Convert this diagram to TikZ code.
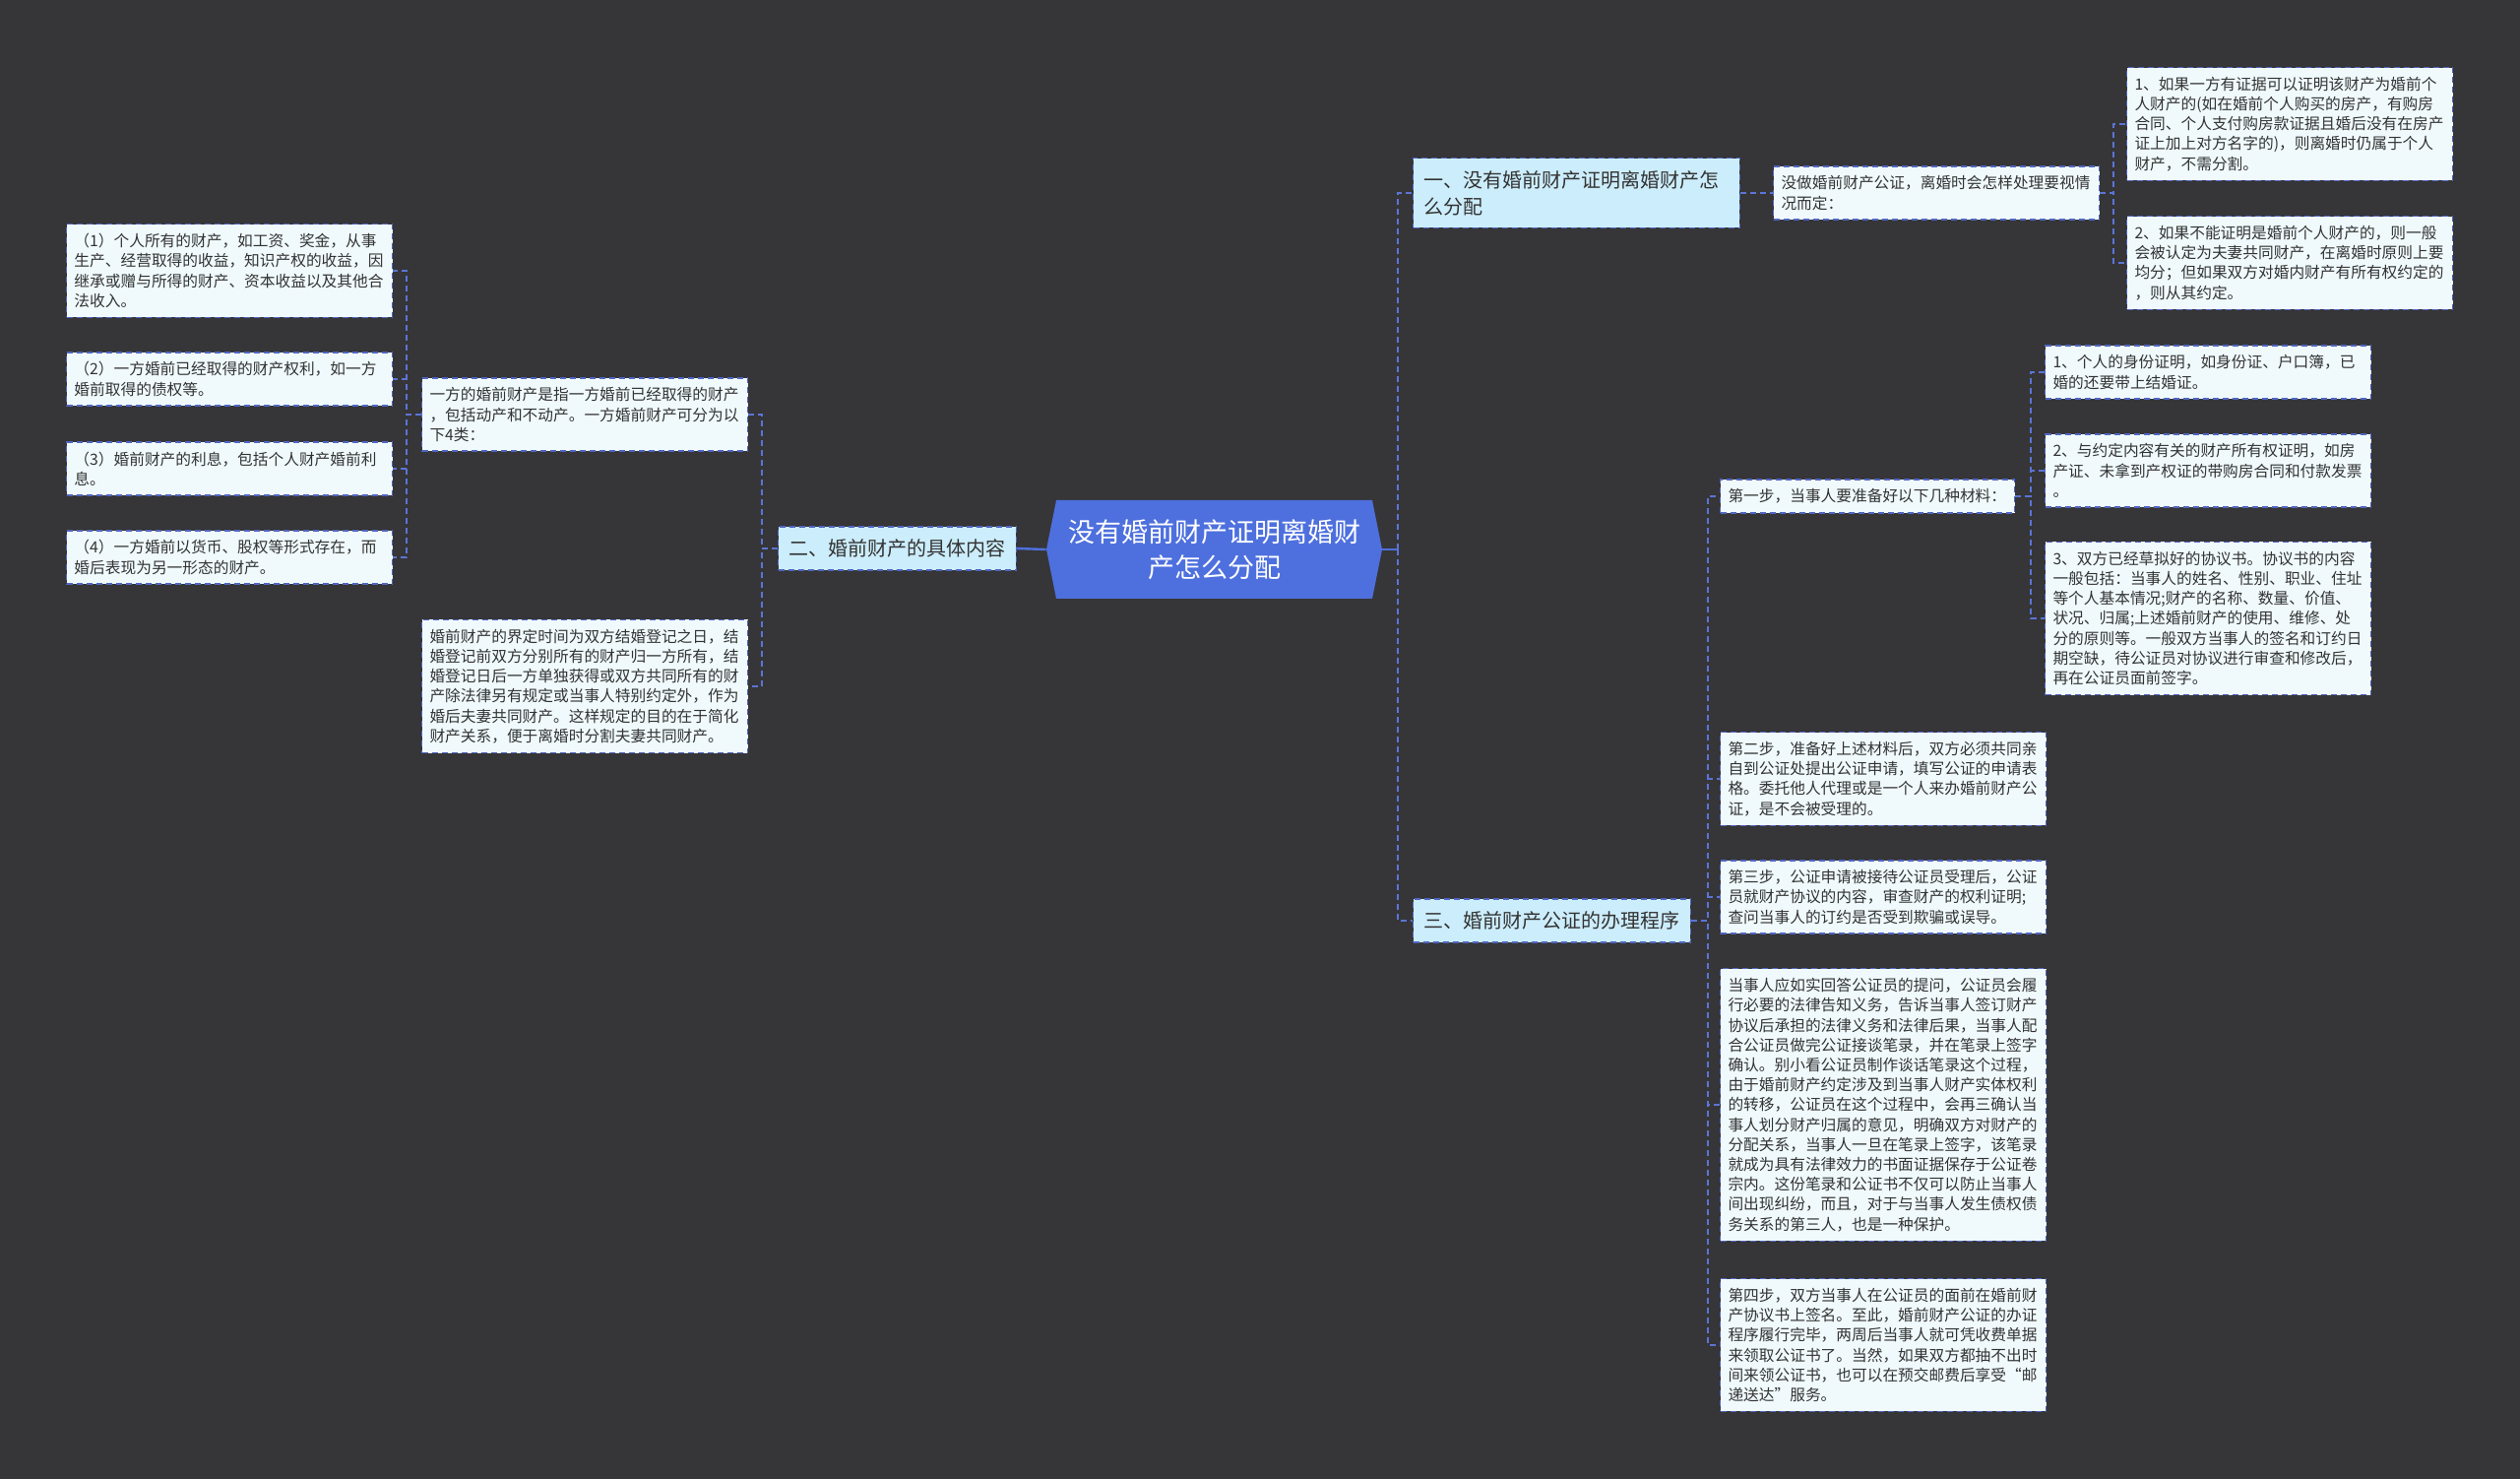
\documentclass[tikz,border=0pt]{standalone}
\usepackage{fontspec}
\setmainfont{Noto Sans CJK SC}
\usetikzlibrary{calc}
\definecolor{mmback}{HTML}{363538}
\definecolor{mmroot}{HTML}{4E70DE}
\definecolor{mmtopic}{HTML}{CCEDFB}
\definecolor{mmleaf}{HTML}{F0FAFD}
\definecolor{mmedge}{HTML}{4F66C0}
\definecolor{mmline}{HTML}{5B74D6}
\definecolor{mmtext}{HTML}{333333}
\tikzset{
 mm root/.style={text=white,font=\fontsize{13.5}{18}\selectfont,align=center,
                 minimum width=170.5pt,minimum height=50pt,inner sep=0pt},
 mm topic/.style={anchor=west,fill=mmtopic,draw=mmedge,line width=.7pt,
                  dash pattern=on 3pt off 2pt,text=mmtext,align=left,
                  font=\fontsize{10}{13.5}\selectfont,inner xsep=5.4pt,inner ysep=6.3pt},
 mm leaf/.style={anchor=west,fill=mmleaf,draw=mmedge,line width=.7pt,
                 dash pattern=on 3pt off 2pt,text=mmtext,align=left,text width=157.7pt,
                 font=\fontsize{7.85}{10.1}\selectfont,inner xsep=3.9pt,inner ysep=4.8pt},
 mm link/.style={mmline,line width=1pt,dash pattern=on 3pt off 2pt},
 mm stem/.style={mmroot,line width=1.2pt}
}
\begin{document}
\begin{tikzpicture}[x=.5pt,y=-.5pt]
 \fill[mmback] (0,0) rectangle (2560,1502);
 \useasboundingbox (0,0) rectangle (2560,1502);

 % centre
 \coordinate (rc) at (1233.5,558);
 \fill[mmroot] ($(rc)+(-170.5,0)$) -- ($(rc)+(-160.5,-50)$) -- ($(rc)+(160.5,-50)$)
   -- ($(rc)+(170.5,0)$) -- ($(rc)+(160.5,50)$) -- ($(rc)+(-160.5,50)$) -- cycle;
 \node[mm root] (root) at (rc) {没有婚前财产证明离婚财\\产怎么分配};

 % left branch
 \node[mm topic,text width=110pt] (two) at (790,557) {二、婚前财产的具体内容};
 \node[mm leaf] (defn) at (428,421) {一方的婚前财产是指一方婚前已经取得的财产\\，包括动产和不动产。一方婚前财产可分为以\\下4类：};
 \node[mm leaf] (date) at (428,697) {婚前财产的界定时间为双方结婚登记之日，结\\婚登记前双方分别所有的财产归一方所有，结\\婚登记日后一方单独获得或双方共同所有的财\\产除法律另有规定或当事人特别约定外，作为\\婚后夫妻共同财产。这样规定的目的在于简化\\财产关系，便于离婚时分割夫妻共同财产。};
 \node[mm leaf] (kind1) at (67,275) {（1）个人所有的财产，如工资、奖金，从事\\生产、经营取得的收益，知识产权的收益，因\\继承或赠与所得的财产、资本收益以及其他合\\法收入。};
 \node[mm leaf] (kind2) at (67,385) {（2）一方婚前已经取得的财产权利，如一方\\婚前取得的债权等。};
 \node[mm leaf] (kind3) at (67,476) {（3）婚前财产的利息，包括个人财产婚前利\\息。};
 \node[mm leaf] (kind4) at (67,566) {（4）一方婚前以货币、股权等形式存在，而\\婚后表现为另一形态的财产。};

 % right branch, part one
 \node[mm topic,text width=155pt] (one) at (1435,196) {一、没有婚前财产证明离婚财产怎\\么分配};
 \node[mm leaf] (case) at (1801,196) {没做婚前财产公证，离婚时会怎样处理要视情\\况而定：};
 \node[mm leaf] (case1) at (2160,126) {1、如果一方有证据可以证明该财产为婚前个\\人财产的(如在婚前个人购买的房产，有购房\\合同、个人支付购房款证据且婚后没有在房产\\证上加上对方名字的)，则离婚时仍属于个人\\财产，不需分割。};
 \node[mm leaf] (case2) at (2160,267) {2、如果不能证明是婚前个人财产的，则一般\\会被认定为夫妻共同财产，在离婚时原则上要\\均分；但如果双方对婚内财产有所有权约定的\\，则从其约定。};

 % right branch, part three
 \node[mm topic,text width=130pt] (three) at (1435,935) {三、婚前财产公证的办理程序};
 \node[mm leaf,text width=141.7pt] (step1) at (1747,504) {第一步，当事人要准备好以下几种材料：};
 \node[mm leaf] (doc1) at (2077,378) {1、个人的身份证明，如身份证、户口簿，已\\婚的还要带上结婚证。};
 \node[mm leaf] (doc2) at (2077,478) {2、与约定内容有关的财产所有权证明，如房\\产证、未拿到产权证的带购房合同和付款发票\\。};
 \node[mm leaf] (doc3) at (2077,628) {3、双方已经草拟好的协议书。协议书的内容\\一般包括：当事人的姓名、性别、职业、住址\\等个人基本情况;财产的名称、数量、价值、\\状况、归属;上述婚前财产的使用、维修、处\\分的原则等。一般双方当事人的签名和订约日\\期空缺，待公证员对协议进行审查和修改后，\\再在公证员面前签字。};
 \node[mm leaf] (step2) at (1747,791) {第二步，准备好上述材料后，双方必须共同亲\\自到公证处提出公证申请，填写公证的申请表\\格。委托他人代理或是一个人来办婚前财产公\\证，是不会被受理的。};
 \node[mm leaf] (step3) at (1747,911) {第三步，公证申请被接待公证员受理后，公证\\员就财产协议的内容，审查财产的权利证明;\\查问当事人的订约是否受到欺骗或误导。};
 \node[mm leaf] (talk) at (1747,1122) {当事人应如实回答公证员的提问，公证员会履\\行必要的法律告知义务，告诉当事人签订财产\\协议后承担的法律义务和法律后果，当事人配\\合公证员做完公证接谈笔录，并在笔录上签字\\确认。别小看公证员制作谈话笔录这个过程，\\由于婚前财产约定涉及到当事人财产实体权利\\的转移，公证员在这个过程中，会再三确认当\\事人划分财产归属的意见，明确双方对财产的\\分配关系，当事人一旦在笔录上签字，该笔录\\就成为具有法律效力的书面证据保存于公证卷\\宗内。这份笔录和公证书不仅可以防止当事人\\间出现纠纷，而且，对于与当事人发生债权债\\务关系的第三人，也是一种保护。};
 \node[mm leaf] (step4) at (1747,1366) {第四步，双方当事人在公证员的面前在婚前财\\产协议书上签名。至此，婚前财产公证的办证\\程序履行完毕，两周后当事人就可凭收费单据\\来领取公证书了。当然，如果双方都抽不出时\\间来领公证书，也可以在预交邮费后享受“邮\\递送达”服务。};

 % links
 \draw[mm stem] (root.west) -- (two.east);
 \draw[mm stem] (root.east) -- ++(16,0) coordinate (rj);
 \draw[mm link] (rj) |- (one.west);
 \draw[mm link] (rj) |- (three.west);
 \foreach \c in {defn,date} \draw[mm link] (two.west) -- ++(-16,0) |- (\c.east);
 \foreach \c in {kind1,kind2,kind3,kind4} \draw[mm link] (defn.west) -- ++(-15,0) |- (\c.east);
 \draw[mm link] (one.east) -- (case.west);
 \foreach \c in {case1,case2} \draw[mm link] (case.east) -- ++(14,0) |- (\c.west);
 \foreach \c in {step1,step2,step3,talk,step4} \draw[mm link] (three.east) -- ++(17,0) |- (\c.west);
 \foreach \c in {doc1,doc2,doc3} \draw[mm link] (step1.east) -- ++(16,0) |- (\c.west);
\end{tikzpicture}
\end{document}
